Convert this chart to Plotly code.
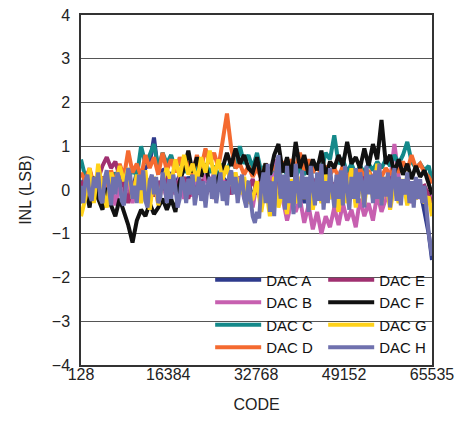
import plotly.graph_objects as go

# Sample codes (every 800 codes plus the last code)
CODES = [128 + 800 * i for i in range(82)] + [65535]
# Finer sampling used for the dominant DAC H trace (every 400 codes)
CODES_FINE = [128 + 400 * i for i in range(163)] + [65535]

DAC_A = [0.1, 0.3, 0.0, 0.25, 0.05, 0.3, 0.1, 0.35, 0.0, 0.2,
         0.1, 0.3, 0.0, 0.4, 0.2, 0.5, 0.6, 1.2, 0.4, 0.45,
         0.2, 0.4, 0.1, 0.35, 0.0, 0.3, 0.1, 0.4, 0.05, 0.3,
         0.1, 0.35, 0.0, 0.3, 0.15, 0.4, 0.1, 0.3, 0.0, 0.2,
         -0.2, 0.1, -0.3, 0.2, -0.4, 0.1, -0.2, 0.3, -0.5, 0.0,
         -0.2, 0.2, -0.3, 0.1, -0.1, 0.3, 0.0, 0.2, -0.2, 0.1,
         -0.1, 0.2, -0.2, 0.15, -0.15, 0.3, 0.0, 0.2, -0.1, 0.25,
         0.0, 0.2, -0.2, 0.1, -0.1, 0.2, 0.0, 0.15, -0.2, 0.0,
         -0.5, -1.0, -1.6]
DAC_B = [0.0, 0.2, -0.1, 0.25, -0.2, 0.1, -0.3, 0.2, -0.35, 0.1,
         -0.2, 0.2, -0.3, 0.15, -0.25, 0.2, -0.2, 0.1, -0.3, 0.15,
         -0.2, 0.2, -0.1, 0.3, -0.2, 0.25, -0.15, 0.3, -0.1, 0.35,
         0.1, 0.4, 0.0, 0.3, -0.1, 0.2, 0.0, 0.3, -0.2, 0.1,
         -0.4, 0.2, -0.3, 0.5, 0.0, 0.7, 0.1, -0.2, -0.7, -0.3,
         -0.5, -0.2, -0.75, -0.35, -0.9, -0.5, -1.0, -0.6, -0.85, -0.4,
         -0.8, -0.3, -0.7, -0.45, -0.85, -0.2, -0.6, -0.3, -0.7, -0.1,
         -0.5, -0.2, 0.2, 1.05, 0.3, -0.1, 0.2, -0.3, 0.1, -0.2,
         0.0, -0.3, -0.1]
DAC_C = [0.7, 0.3, 0.45, 0.1, 0.3, 0.0, 0.35, 0.1, 0.4, 0.2,
         0.45, 0.2, 0.5, 0.3, 1.0, 0.6, 0.8, 1.05, 0.5, 0.85,
         0.6, 0.8, 0.45, 0.7, 0.4, 0.6, 0.3, 0.55, 0.35, 0.6,
         0.4, 0.55, 0.3, 0.6, 0.45, 0.7, 0.5, 1.0, 0.6, 0.8,
         0.5, 0.85, 0.4, 0.6, 0.35, 0.55, 0.3, 0.5, 0.35, 0.45,
         0.3, 0.5, 0.35, 0.55, 0.4, 0.6, 0.45, 0.85, 0.7, 1.25,
         0.6, 0.7, 0.4, 0.6, 0.35, 0.55, 0.4, 0.6, 0.45, 0.65,
         0.5, 0.7, 0.55, 0.8, 0.6, 0.8, 1.1, 0.65, 0.5, 0.6,
         0.45, 0.55, 0.2]
DAC_D = [0.4, 0.2, 0.5, 0.1, -0.2, 0.3, 0.0, 0.45, 0.15, 0.6,
         0.3, 0.9, 0.4, 0.6, 0.3, 0.8, 0.5, 0.75, 0.35, 0.85,
         0.45, 0.7, 0.4, 0.75, 0.5, 0.65, 0.35, 0.8, 0.5, 0.95,
         0.6, 0.85, 0.5, 1.2, 1.75, 0.95, 0.5, 0.6, 0.35, 0.55,
         0.3, 0.5, 0.25, 0.6, 0.4, 0.55, 0.3, 0.65, 0.45, 0.7,
         0.5, 0.85, 0.45, 0.7, 0.4, 0.6, 0.3, 0.55, 0.35, 0.5,
         0.3, 0.55, 0.25, 0.45, 0.2, 0.5, 0.3, 0.45, 0.25, 0.5,
         0.3, 0.5, 0.35, 0.55, 0.4, 0.65, 0.45, 0.8, 0.5, 0.6,
         0.4, 0.3, 0.15]
DAC_E = [0.2, 0.0, 0.3, 0.1, 0.25, 0.55, 0.75, 0.5, 0.65, 0.3,
         0.1, -0.3, 0.2, -0.1, 0.3, 0.0, 0.25, -0.15, 0.2, 0.0,
         0.3, -0.1, 0.2, 0.0, 0.3, -0.2, 0.15, -0.1, 0.25, -0.15,
         0.1, -0.2, 0.3, 0.0, 0.2, -0.1, 0.3, 0.05, 0.2, 0.0,
         0.25, -0.1, 0.3, 0.0, 0.2, -0.15, 0.3, 0.05, 0.25, 0.0,
         0.3, 0.05, 0.2, -0.1, 0.25, 0.0, 0.3, -0.05, 0.2, 0.1,
         0.3, 0.0, 0.2, -0.1, 0.25, 0.05, 0.3, 0.0, 0.2, -0.05,
         0.25, 0.0, 0.3, 0.05, 0.2, -0.1, 0.25, 0.0, 0.2, 0.05,
         0.1, -0.1, -0.3]
DAC_F = [-0.3, 0.1, -0.4, 0.3, -0.2, -0.45, 0.05, -0.35, -0.6, -0.2,
         -0.5, -0.8, -1.2, -0.7, -0.45, -0.6, -0.3, -0.55, -0.4, -0.2,
         -0.45, -0.2, -0.5, 0.2, 0.5, 0.9, 0.4, 0.75, 0.3, 0.6,
         0.1, -0.15, 0.3, 0.5, 0.85, 0.55, 0.95, 0.6, 0.8, 0.5,
         0.4, 0.75, 0.2, 0.6, 0.35, 0.8, 1.05, 0.4, 0.75, 0.3,
         1.1, 0.5, 0.8, 0.35, 0.7, 0.45, 0.9, 0.3, 0.65, 0.5,
         0.8, 0.55, 1.1, 0.6, 0.75, 0.5, 0.95, 0.55, 1.05, 0.7,
         1.6, 0.6, 0.8, 0.4, 0.7, 0.35, 0.6, 0.25, 0.55, 0.3,
         0.45, 0.1, -0.1]
DAC_G = [-0.6, -0.2, 0.5, -0.3, 0.6, 0.0, -0.4, 0.4, 0.1, 0.55,
         0.2, 0.5, -0.2, 0.35, -0.3, 0.45, -0.45, 0.3, -0.35, 0.2,
         0.5, 0.15, 0.7, 0.3, 0.8, 0.35, 0.6, 0.2, 0.75, 0.4,
         0.9, 0.3, 0.7, 0.25, 0.55, 0.1, 0.4, -0.1, 0.3, -0.3,
         -0.2, 0.2, -0.5, 0.1, -0.6, 0.3, -0.4, 0.0, -0.55, 0.25,
         -0.3, 0.3, -0.2, 0.1, -0.45, 0.2, -0.3, 0.35, -0.2, 0.1,
         -0.5, 0.3, -0.3, 0.5, -0.4, 0.2, -0.35, 0.4, -0.2, 0.6,
         -0.3, 0.3, -0.45, 0.1, -0.3, 0.25, -0.35, 0.1, -0.2, 0.0,
         -0.3, -0.15, -0.6]
DAC_H = [0.1, -0.3, 0.2, 0.35, -0.1, -0.25, 0.3, 0.05, 0.4, -0.2,
         -0.3, 0.25, 0.45, 0.0, -0.35, 0.3, -0.1, 0.4, 0.2, -0.25,
         -0.35, 0.15, 0.5, 0.3, -0.2, 0.1, -0.3, 0.35, 0.0, 0.45,
         -0.25, -0.4, 0.2, 0.35, -0.1, 0.3, -0.3, -0.15, 0.4, 0.1,
         -0.3, 0.25, -0.2, 0.35, 0.05, -0.4, -0.2, 0.3, 0.15, -0.3,
         0.25, -0.1, 0.35, -0.35, 0.0, 0.3, -0.25, 0.2, -0.4, 0.1,
         0.3, -0.2, 0.35, -0.3, 0.05, 0.4, -0.25, 0.2, -0.35, 0.3,
         0.45, -0.1, 0.3, -0.3, 0.1, 0.35, -0.2, -0.4, 0.2, -0.3,
         -0.6, -0.75, -0.5, -0.65, 0.1, 0.4, -0.3, 0.6, -0.5, 0.2,
         -0.6, 0.5, 0.8, -0.2, 0.35, -0.45, 0.55, -0.3, 0.2, -0.55,
         0.6, 0.1, -0.4, 0.45, -0.2, 0.3, -0.5, 0.55, 0.0, -0.35,
         0.4, -0.25, 0.6, -0.45, 0.2, -0.3, 0.5, 0.1, -0.4, 0.35,
         -0.2, 0.45, -0.35, 0.55, 0.0, -0.45, 0.3, -0.2, 0.5, -0.3,
         0.4, 0.15, -0.4, 0.55, -0.1, 0.35, -0.3, 0.45, -0.2, 0.6,
         -0.35, 0.3, -0.15, 0.4, -0.4, 0.2, 0.5, -0.25, 0.3, -0.35,
         0.25, -0.1, 0.4, -0.3, 0.2, -0.4, 0.3, -0.2, 0.25, -0.3,
         0.1, -0.4, -1.0, -1.5]

SERIES = [
    ("DAC A", CODES, DAC_A, "#2e3a8c", "legend", 1),
    ("DAC B", CODES, DAC_B, "#c760b0", "legend", 2),
    ("DAC C", CODES, DAC_C, "#14898a", "legend", 3),
    ("DAC D", CODES, DAC_D, "#f46a30", "legend", 4),
    ("DAC E", CODES, DAC_E, "#a03070", "legend2", 5),
    ("DAC F", CODES, DAC_F, "#111111", "legend2", 6),
    ("DAC G", CODES, DAC_G, "#ffd21a", "legend2", 7),
    ("DAC H", CODES_FINE, DAC_H, "#6f71ae", "legend2", 8),
]

X_TICKS = [128, 16384, 32768, 49152, 65535]
FONT = "Liberation Sans, Arial, sans-serif"

fig = go.Figure()
for name, xs, vals, color, leg, rank in SERIES:
    fig.add_trace(go.Scatter(x=xs, y=vals, mode="lines", name=name,
                             line=dict(color=color, width=4),
                             legend=leg, legendrank=rank))

# white panel behind the legend that hides the gridlines there
fig.add_shape(type="rect", xref="paper", yref="paper", layer="between",
              x0=0.373, x1=0.989, y0=0.004, y1=0.277,
              fillcolor="white", line=dict(width=0))

legend_common = dict(bgcolor="rgba(0,0,0,0)", borderwidth=0, itemwidth=46,
                     font=dict(family=FONT, size=15, color="#111"),
                     tracegroupgap=0, yanchor="top", xanchor="left",
                     itemclick=False)
fig.update_layout(
    width=457, height=422,
    margin=dict(l=81, r=25, t=15, b=57),
    paper_bgcolor="white", plot_bgcolor="white",
    font=dict(family=FONT, size=16, color="#222"),
    showlegend=True,
    legend=dict(x=0.368, y=0.29, **legend_common),
    legend2=dict(x=0.69, y=0.29, **legend_common),
    xaxis=dict(range=[128, 65535], tickvals=X_TICKS,
               ticktext=[str(v) for v in X_TICKS], automargin=False,
               showgrid=False, zeroline=False, showline=True,
               linecolor="#333", linewidth=1.5, mirror=True, ticks="",
               ticklabelstandoff=-6, ticklabeloverflow="allow",
               title=dict(text="CODE", standoff=17,
                          font=dict(family=FONT, size=16))),
    yaxis=dict(range=[-4, 4], dtick=1, showgrid=True, gridcolor="#555",
               gridwidth=1, zeroline=False, showline=True, linecolor="#333",
               linewidth=1.5, mirror=True, ticks="", ticklabelstandoff=6,
               automargin=False, ticklabeloverflow="allow",
               title=dict(text="INL (LSB)", standoff=16,
                          font=dict(family=FONT, size=16))),
)

fig.write_html("out.html",
               config={"displayModeBar": False},
               post_script="document.body.style.margin='0px';"
                           "document.body.style.overflow='hidden';")
